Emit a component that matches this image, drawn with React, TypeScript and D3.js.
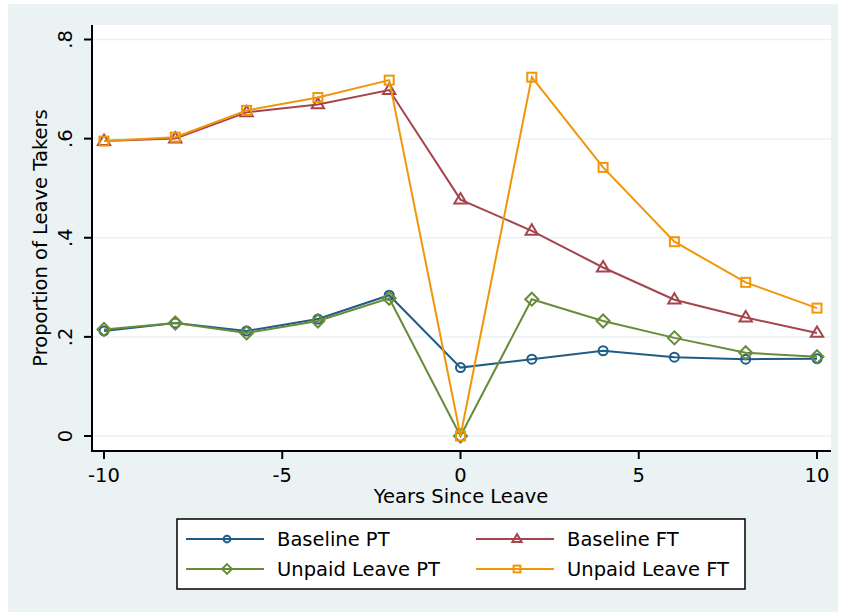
import React from 'react';
import * as d3 from 'd3';

// years relative to leave
const years = [-10, -8, -6, -4, -2, 0, 2, 4, 6, 8, 10];

const baselinePT = [0.212, 0.228, 0.212, 0.236, 0.284, 0.138, 0.155, 0.172, 0.159, 0.155, 0.156];
const baselineFT = [0.595, 0.600, 0.653, 0.669, 0.698, 0.477, 0.414, 0.340, 0.275, 0.239, 0.208];
const unpaidPT = [0.215, 0.228, 0.208, 0.232, 0.278, 0.0, 0.276, 0.232, 0.198, 0.168, 0.160];
const unpaidFT = [0.595, 0.603, 0.657, 0.683, 0.718, 0.0, 0.724, 0.542, 0.392, 0.310, 0.258];

const yTicks = [0, 0.2, 0.4, 0.6, 0.8];
const yTickLabels = ['0', '.2', '.4', '.6', '.8'];
const xTicks = [-10, -5, 0, 5, 10];

const series = [
  { name: 'Baseline PT', values: baselinePT, color: '#1f5c88', marker: 'circle' },
  { name: 'Baseline FT', values: baselineFT, color: '#a4454c', marker: 'triangle' },
  { name: 'Unpaid Leave PT', values: unpaidPT, color: '#698c38', marker: 'diamond' },
  { name: 'Unpaid Leave FT', values: unpaidFT, color: '#f0960a', marker: 'square' },
];

const width = 843;
const height = 614;
const plot = { left: 92, right: 831, top: 25, bottom: 451 };
const font = '"DejaVu Sans", sans-serif';
const fs = 19.5;

function Marker({ type, x, y, color, s = 1 }: { type: string; x: number; y: number; color: string; s?: number }) {
  const common = { fill: 'none', stroke: color, strokeWidth: 2 };
  if (type === 'circle') return <circle cx={x} cy={y} r={4.5 * s} {...common} />;
  if (type === 'square') return <rect x={x - 4.5 * s} y={y - 4.5 * s} width={9 * s} height={9 * s} {...common} />;
  if (type === 'triangle') {
    const r = 6.5 * s;
    return <polygon points={`${x},${y - r} ${x + r * 0.95},${y + r * 0.6} ${x - r * 0.95},${y + r * 0.6}`} {...common} />;
  }
  const r = 6.5 * s;
  return <polygon points={`${x},${y - r} ${x + r},${y} ${x},${y + r} ${x - r},${y}`} {...common} />;
}

export default function App() {
  const x = d3.scaleLinear().domain([-10, 10]).range([104, 817]);
  const y = d3.scaleLinear().domain([0, 0.8]).range([436, 39.5]);
  const line = d3.line<number>().x((_, i) => x(years[i])).y(d => y(d));

  const legendRows = [
    [series[0], series[1]],
    [series[2], series[3]],
  ];

  return (
    <svg width={width} height={height} style={{ position: 'absolute', left: 0, top: 0 }}>
      <rect x={8} y={4} width={830} height={608} fill="#eaf2f3" />
      <rect x={plot.left} y={plot.top} width={plot.right - plot.left} height={plot.bottom - plot.top} fill="#fff" />

      {/* gridlines */}
      {yTicks.map(t => (
        <line key={t} x1={plot.left} x2={plot.right} y1={y(t)} y2={y(t)} stroke="#eaf2f3" strokeWidth={1.5} />
      ))}

      {/* series */}
      {series.map(s => (
        <g key={s.name}>
          <path d={line(s.values) || ''} fill="none" stroke={s.color} strokeWidth={2} />
          {s.values.map((v, i) => (
            <Marker key={i} type={s.marker} x={x(years[i])} y={y(v)} color={s.color} />
          ))}
        </g>
      ))}

      {/* axes */}
      <line x1={plot.left} x2={plot.left} y1={plot.top} y2={plot.bottom + 1} stroke="#000" strokeWidth={2} />
      <line x1={plot.left - 1} x2={plot.right} y1={plot.bottom} y2={plot.bottom} stroke="#000" strokeWidth={2} />
      {yTicks.map((t, i) => (
        <g key={t}>
          <line x1={plot.left - 8} x2={plot.left} y1={y(t)} y2={y(t)} stroke="#000" strokeWidth={2} />
          <text
            transform={`translate(72,${y(t)}) rotate(-90)`}
            textAnchor="middle"
            fontFamily={font}
            fontSize={fs}
            fill="#000"
          >
            {yTickLabels[i]}
          </text>
        </g>
      ))}
      {xTicks.map(t => (
        <g key={t}>
          <line x1={x(t)} x2={x(t)} y1={plot.bottom} y2={plot.bottom + 8} stroke="#000" strokeWidth={2} />
          <text x={x(t)} y={482} textAnchor="middle" fontFamily={font} fontSize={fs} fill="#000">
            {t}
          </text>
        </g>
      ))}

      <text x={461} y={503} textAnchor="middle" fontFamily={font} fontSize={fs} fill="#000">
        Years Since Leave
      </text>
      <text
        transform={`translate(47,238) rotate(-90)`}
        textAnchor="middle"
        fontFamily={font}
        fontSize={fs}
        fill="#000"
      >
        Proportion of Leave Takers
      </text>

      {/* legend */}
      <rect x={177} y={519} width={568} height={70} fill="#fff" stroke="#000" strokeWidth={1.5} />
      {legendRows.map((row, r) =>
        row.map((s, c) => {
          const cy = 539 + r * 30;
          const lx = 186 + c * 290;
          return (
            <g key={s.name}>
              <line x1={lx} x2={lx + 78} y1={cy} y2={cy} stroke={s.color} strokeWidth={2} />
              <Marker type={s.marker} x={lx + 41} y={cy} color={s.color} s={0.75} />
              <text x={lx + 91} y={cy + 7} fontFamily={font} fontSize={fs} fill="#000">
                {s.name}
              </text>
            </g>
          );
        })
      )}
    </svg>
  );
}
